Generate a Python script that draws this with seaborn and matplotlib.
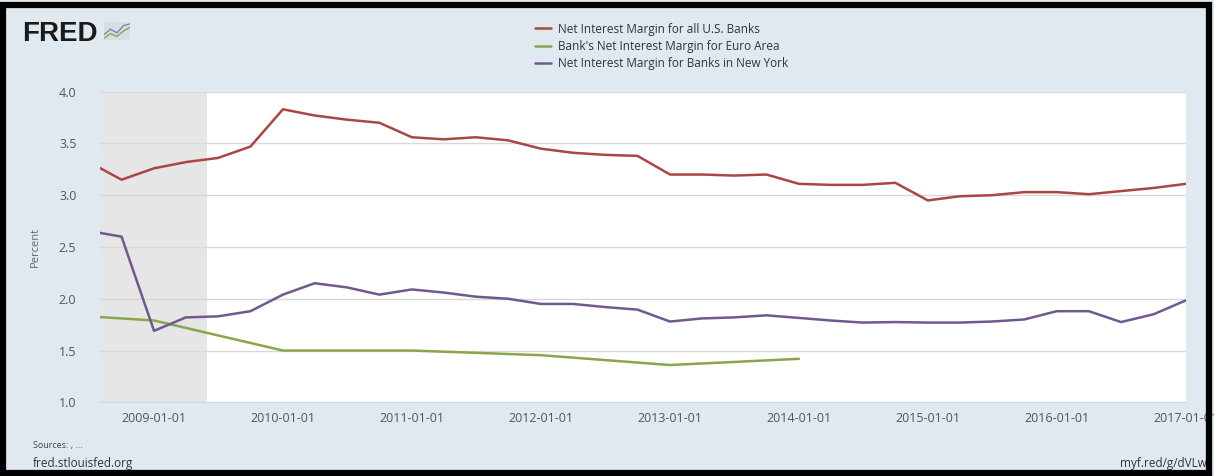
import pandas as pd
import seaborn as sns
import matplotlib.pyplot as plt
import matplotlib.dates as mdates
from matplotlib.patches import Rectangle

# quarterly series
q_dates = pd.date_range('2008-07-01', '2017-01-01', freq='QS')
us_banks = [3.32, 3.15, 3.26, 3.32, 3.36, 3.47, 3.83, 3.77, 3.73, 3.70,
            3.56, 3.54, 3.56, 3.53, 3.45, 3.41, 3.39, 3.38, 3.20, 3.20,
            3.19, 3.20, 3.11, 3.10, 3.10, 3.12, 2.95, 2.99, 3.00, 3.03,
            3.03, 3.01, 3.04, 3.07, 3.11]
ny_banks = [2.655, 2.60, 1.69, 1.82, 1.83, 1.88, 2.04, 2.15, 2.11, 2.04,
            2.09, 2.06, 2.02, 2.00, 1.95, 1.95, 1.92, 1.895, 1.78, 1.81,
            1.82, 1.84, 1.815, 1.79, 1.77, 1.775, 1.77, 1.77, 1.78, 1.80,
            1.88, 1.88, 1.775, 1.85, 1.985]

# annual series
a_dates = pd.date_range('2008-01-01', '2014-01-01', freq='YS')
euro_area = [1.87, 1.79, 1.50, 1.50, 1.455, 1.36, 1.42]

labels = ['Net Interest Margin for all U.S. Banks',
          "Bank's Net Interest Margin for Euro Area",
          'Net Interest Margin for Banks in New York']
colors = ['#AA4643', '#89A54E', '#71588F']

sns.set_style('white')
plt.rcParams['font.family'] = ['Open Sans', 'DejaVu Sans']

bg = '#e1e9f0'
fig = plt.figure(figsize=(12.14, 4.76), dpi=100, facecolor=bg)
ax = fig.add_axes([100 / 1214, 1 - 402.3 / 476, 1086 / 1214, (402.3 - 91.7) / 476])
ax.set_facecolor('white')

# recession shading
ax.axvspan(pd.Timestamp('2007-12-01'), pd.Timestamp('2009-06-01'), color='#e6e6e6', zorder=0, lw=0)

sns.lineplot(x=q_dates, y=us_banks, color=colors[0], lw=1.8, ax=ax, label=labels[0])
sns.lineplot(x=a_dates, y=euro_area, color=colors[1], lw=1.8, ax=ax, label=labels[1])
sns.lineplot(x=q_dates, y=ny_banks, color=colors[2], lw=1.8, ax=ax, label=labels[2])

ax.set_xlim(pd.Timestamp('2008-08-01'), pd.Timestamp('2017-01-01'))
ax.set_ylim(1.0, 4.0)
ax.set_yticks([1.0, 1.5, 2.0, 2.5, 3.0, 3.5, 4.0])
ax.set_yticklabels(['1.0', '1.5', '2.0', '2.5', '3.0', '3.5', '4.0'])
ax.xaxis.set_major_locator(mdates.YearLocator())
ax.xaxis.set_major_formatter(mdates.DateFormatter('%Y-%m-%d'))
ax.grid(axis='y', color='#d8d8d8', lw=1)
ax.set_axisbelow(True)
for s in ['top', 'right', 'left']:
    ax.spines[s].set_visible(False)
ax.spines['bottom'].set_color('#ccd6eb')
ax.tick_params(axis='x', length=6, color='#ccd6eb', labelsize=9, labelcolor='#555555', pad=1)
ax.tick_params(axis='y', length=0, labelsize=9, labelcolor='#555555', pad=17)
ax.set_xlabel('')
ax.set_ylabel('Percent', fontsize=8, color='#666666', labelpad=13)

ax.legend(loc='upper center', bbox_to_anchor=(0.545, 0.975), bbox_transform=fig.transFigure,
          frameon=False, fontsize=8.5, handlelength=1.3, labelspacing=0.35,
          handletextpad=0.6, labelcolor='#333333')

# header / footer text
fig.text(22 / 1214, 1 - 41 / 476, 'FRED', fontsize=20, fontweight='bold', color='#1a1a1a',
         family='Liberation Sans')
fig.text(33 / 1214, 1 - 448 / 476, 'Sources: , ...', fontsize=6.5, color='#444444')
fig.text(33 / 1214, 1 - 467 / 476, 'fred.stlouisfed.org', fontsize=8.5, color='#333333')
fig.text(1207 / 1214, 1 - 467 / 476, 'myf.red/g/dVLw', fontsize=8.5, color='#333333', ha='right')

# small logo icon
icon = fig.add_axes([104 / 1214, 1 - 40 / 476, 26 / 1214, 18 / 476])
icon.set_facecolor('#d7dde3')
icon.plot([0, 1, 2, 3, 4], [0.3, 0.6, 0.4, 0.8, 0.9], color='#6d8fb8', lw=1)
icon.plot([0, 1, 2, 3, 4], [0.1, 0.35, 0.2, 0.5, 0.7], color='#89A54E', lw=1)
icon.set_xlim(0, 4)
icon.set_ylim(0, 1)
icon.set_xticks([])
icon.set_yticks([])
for s in icon.spines.values():
    s.set_visible(False)

# black frame
fig.patches.append(Rectangle((3 / 1214, 3 / 476), 1206 / 1214, 468 / 476, transform=fig.transFigure,
                             fill=False, edgecolor='black', lw=4.5, zorder=10))

fig.savefig('out.png', dpi=100, facecolor=bg)
